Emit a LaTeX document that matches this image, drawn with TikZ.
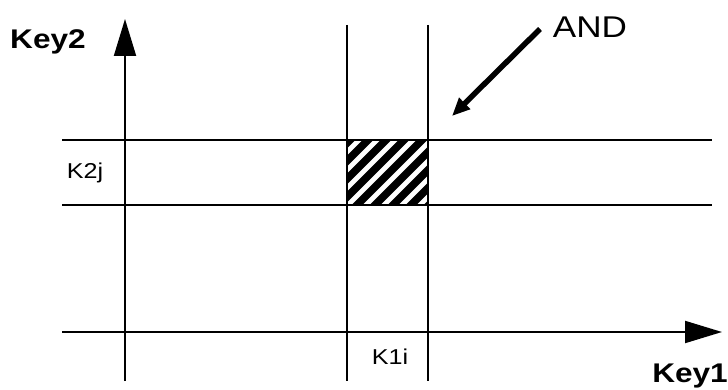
\documentclass[tikz,border=0pt]{standalone}
\usepackage{fontspec}
\setmainfont[FakeStretch=1.17]{Liberation Sans}
\usetikzlibrary{arrows.meta}
\begin{document}
\begin{tikzpicture}[x=1pt,y=-1pt,
  gridline/.style={line width=2pt},
  axisarrow/.style={line width=2pt,-{Triangle[length=37pt,width=22pt]}},
  andarrow/.style={line width=5.5pt,-{Triangle[length=18pt,width=15pt]}},
  keylabel/.style={font=\fontsize{27}{27}\selectfont\bfseries,inner sep=0pt},
  smalllabel/.style={font=\fontsize{21.5}{21.5}\selectfont,inner sep=0pt},
  andlabel/.style={font=\fontsize{30}{30}\selectfont,inner sep=0pt}]
\useasboundingbox (0,0) rectangle (728,390);
% coordinates
\coordinate (vb) at (125,381);
\coordinate (vt) at (125,19);
\coordinate (hl) at (62,332);
\coordinate (hr) at (722,332);
\coordinate (l1l) at (62,140);
\coordinate (l1r) at (712,140);
\coordinate (l2l) at (62,205);
\coordinate (l2r) at (712,205);
\coordinate (v1t) at (347,25);
\coordinate (v1b) at (347,381);
\coordinate (v2t) at (428,25);
\coordinate (v2b) at (428,381);
\coordinate (as) at (540,29);
\coordinate (ae) at (452,116);
% hatched cell
\begin{scope}
\clip (347,140) rectangle (428,205);
\foreach \k in {-90,-72,...,108}
  \draw[line width=7.5pt] (347+\k,215) -- (347+\k+85,130);
\end{scope}
% lines
\draw[gridline] (l1l) -- (l1r);
\draw[gridline] (l2l) -- (l2r);
\draw[gridline] (v1t) -- (v1b);
\draw[gridline] (v2t) -- (v2b);
\draw[axisarrow] (vb) -- (vt);
\draw[axisarrow] (hl) -- (hr);
\draw[andarrow] (as) -- (ae);
% labels
\node[keylabel] (key2) at (48,42) {Key2};
\node[keylabel,anchor=east] (key1) at (728,376) {Key1};
\node[smalllabel] (k2j) at (85,173) {K2j};
\node[smalllabel] (k1i) at (390,357) {K1i};
\node[andlabel] (and) at (590,27) {AND};
\end{tikzpicture}
\end{document}
